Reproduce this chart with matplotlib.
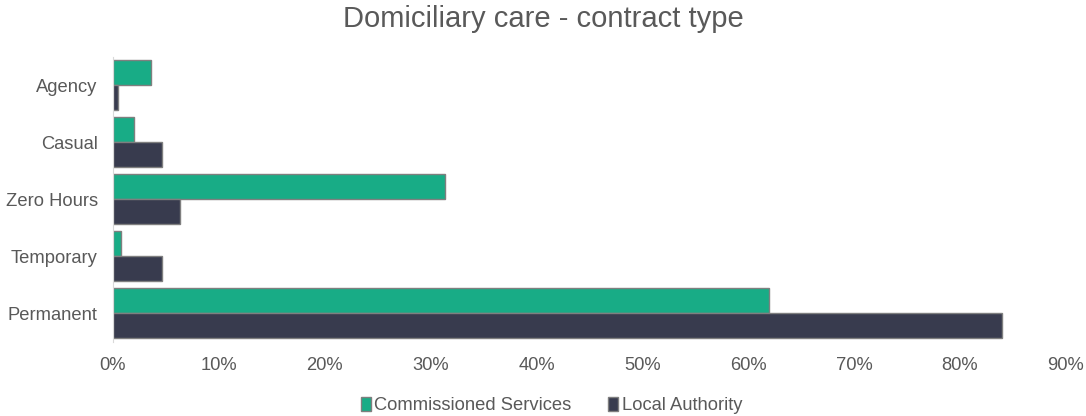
import numpy as np
import matplotlib.pyplot as plt

# Domiciliary care workforce by contract type (% of staff)
categories = ['Agency', 'Casual', 'Zero Hours', 'Temporary', 'Permanent']
commissioned = [3.6, 2.0, 31.4, 0.8, 62.0]
local_authority = [0.45, 4.6, 6.35, 4.6, 84.0]
xticks = [0, 10, 20, 30, 40, 50, 60, 70, 80, 90]

plt.rcParams['font.family'] = ['Liberation Sans', 'DejaVu Sans']
text_col = '#595959'

fig = plt.figure(figsize=(10.86, 4.16), dpi=100)
ax = fig.add_axes([0.104, 0.179, 0.8775, 0.685])

y = np.arange(len(categories))
h = 0.436
ax.barh(y - h / 2, commissioned, height=h, color='#18AC86',
        edgecolor='#7f7f7f', linewidth=1, label='Commissioned Services')
ax.barh(y + h / 2, local_authority, height=h, color='#383B4E',
        edgecolor='#7f7f7f', linewidth=1, label='Local Authority')

ax.set_ylim(len(categories) - 0.5, -0.5)
ax.set_yticks(y)
ax.set_yticklabels(categories)
ax.set_xlim(0, 90)
ax.set_xticks(xticks)
ax.set_xticklabels([f'{t}%' for t in xticks])
ax.tick_params(axis='both', length=0, labelsize=13.2, labelcolor=text_col)
ax.tick_params(axis='x', pad=11)
ax.tick_params(axis='y', pad=11)

for s in ['top', 'right', 'bottom']:
    ax.spines[s].set_visible(False)
ax.spines['left'].set_color('#d9d9d9')

fig.suptitle('Domiciliary care - contract type', fontsize=21, color=text_col, y=0.987)

fig.legend(loc='lower center', ncol=2, frameon=False, fontsize=13.2,
           labelcolor=text_col, handlelength=0.55, handleheight=0.8,
           handletextpad=0.2, columnspacing=2.0, bbox_to_anchor=(0.508, -0.035))

fig.savefig('out.png', dpi=100)
